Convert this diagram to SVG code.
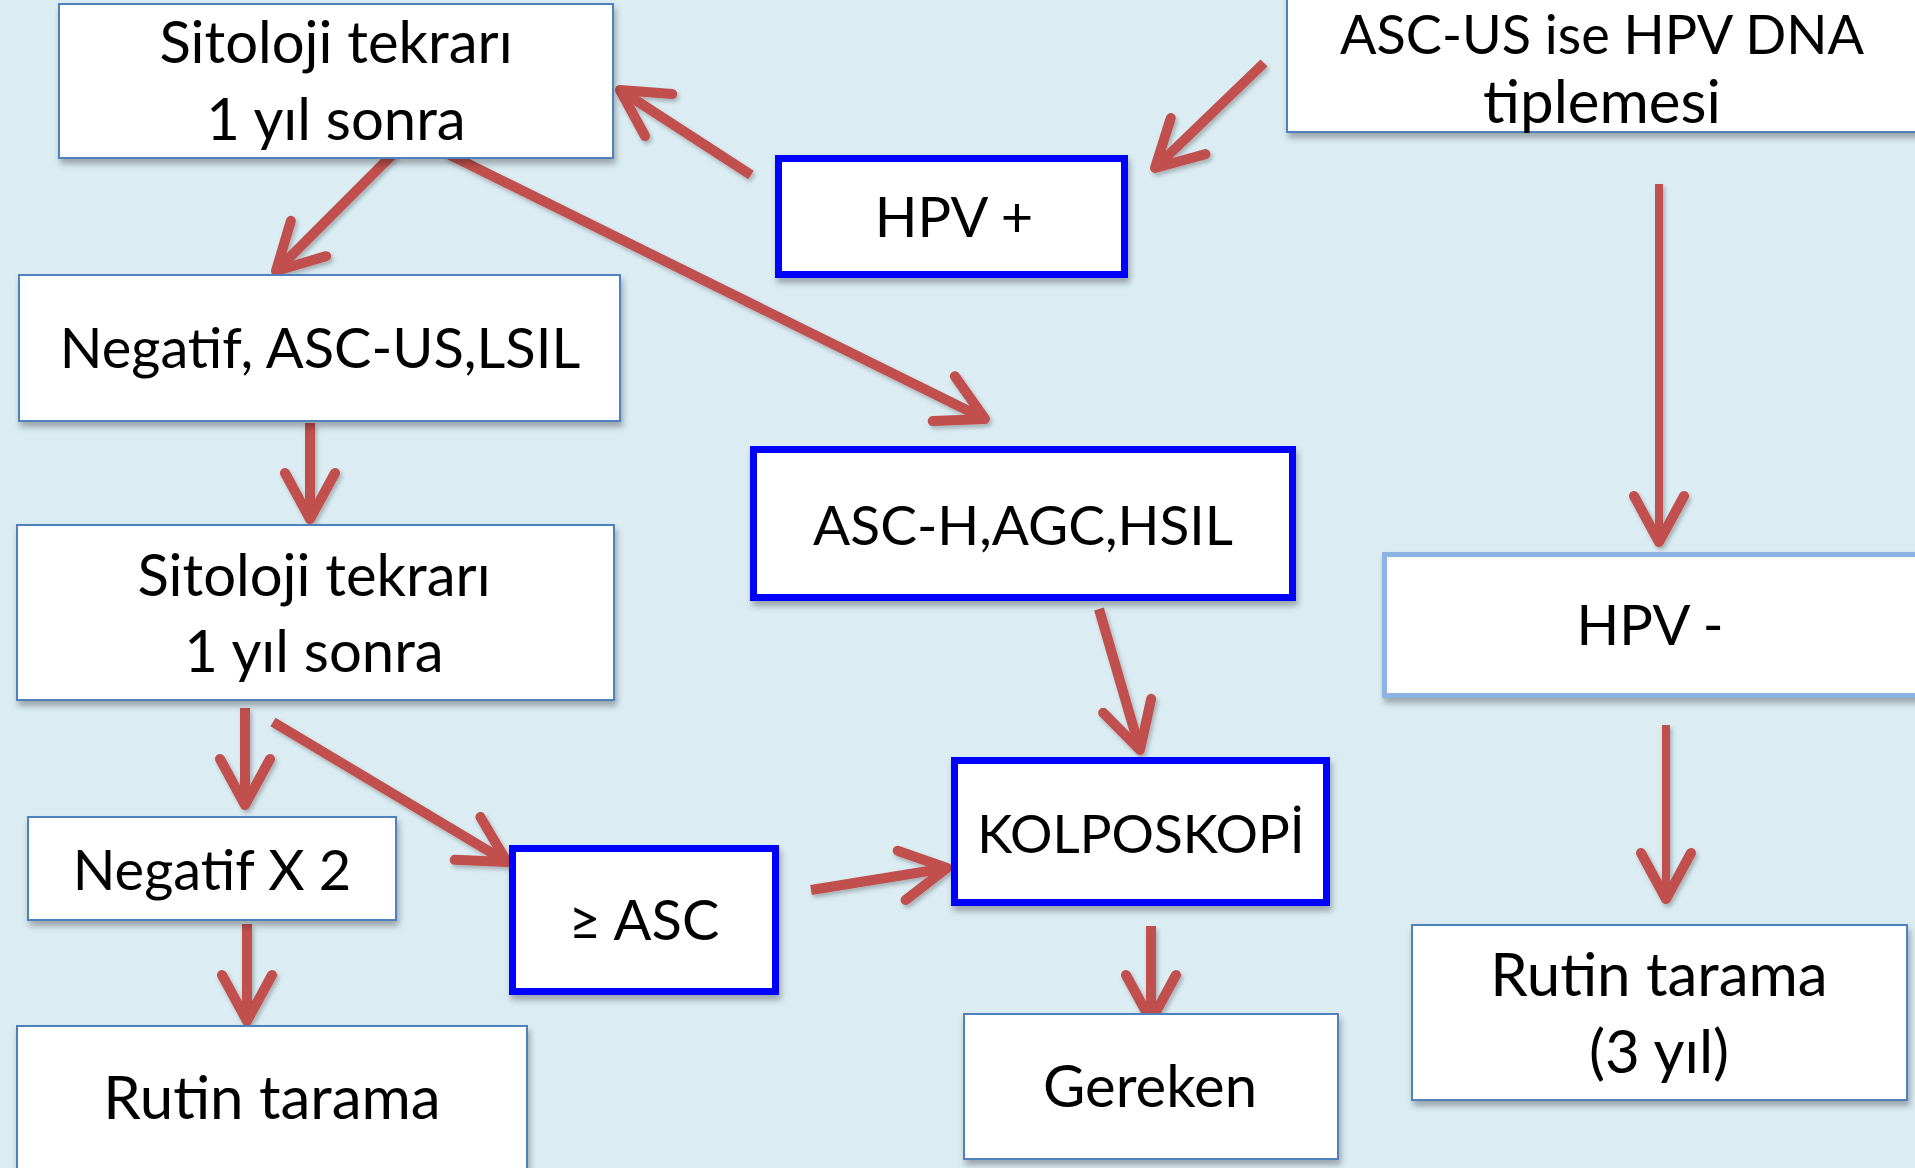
<svg xmlns="http://www.w3.org/2000/svg" width="1915" height="1168" viewBox="0 0 1915 1168">
<style>
.box{fill:#ffffff;stroke:#4F81BD;stroke-width:2;filter:url(#sh)}
.bbox{fill:#ffffff;stroke:#0000FF;stroke-width:7;filter:url(#sh)}
.lbox{fill:#ffffff;stroke:#8DB3E2;stroke-width:5;filter:url(#sh)}
text{font-family:Lato,"Liberation Sans",sans-serif;font-size:56px;fill:#000;text-anchor:middle}
.s58{font-size:58px}
.s60{font-size:60px}
.s53{font-size:53px}
.s55{font-size:55px}
.s54{font-size:54px}
.arr{fill:none;stroke:#C0504D;stroke-width:10;marker-end:url(#ah)}
.thin{stroke-width:8}
</style>
<defs>
<filter id="sh" x="-10%" y="-10%" width="120%" height="130%">
<feDropShadow dx="2" dy="5" stdDeviation="3" flood-color="#000" flood-opacity="0.3"/>
</filter>
<filter id="sh2" filterUnits="userSpaceOnUse" x="0" y="0" width="1915" height="1168">
<feDropShadow dx="2" dy="3" stdDeviation="2" flood-color="#000" flood-opacity="0.25"/>
</filter>
<marker id="ah" markerUnits="userSpaceOnUse" viewBox="-60 -40 70 80" markerWidth="70" markerHeight="80" refX="0" refY="0" orient="auto" overflow="visible">
<path d="M-46,-25 L0,0 L-46,25" fill="none" stroke="#C0504D" stroke-width="10" stroke-linecap="round" stroke-linejoin="round"/>
</marker>
</defs>
<rect x="0" y="0" width="1915" height="1168" fill="#DBECF3"/>

<g id="connectors" filter="url(#sh2)">
<path class="arr" d="M1264,63 L1155,168"/>
<path class="arr" d="M751,175 L620,90"/>
<path class="arr" d="M394,153 L276,271"/>
<path class="arr" d="M446,153 L985,419"/>
<path class="arr" d="M310,423 L310,519"/>
<path class="arr" d="M245,708 L245,805"/>
<path class="arr" d="M273,722 L507,862"/>
<path class="arr" d="M247,924 L247,1021"/>
<path class="arr" d="M811,890 L947,868"/>
<path class="arr" d="M1099,609 L1140,750"/>
<path class="arr" d="M1151,926 L1151,1021"/>
<path class="arr thin" d="M1659,184 L1659,542"/>
<path class="arr thin" d="M1666,725 L1666,899"/>
</g>

<g id="n_sit1">
<rect class="box" x="59" y="4" width="554" height="154"/>
<text class="s58" x="336" y="63">Sitoloji tekrarı</text>
<text class="s58" x="336" y="140">1 yıl sonra</text>
</g>
<g id="n_neg">
<rect class="box" x="19" y="275" width="601" height="146"/>
<text x="320" y="368">Negatif, ASC-US,LSIL</text>
</g>
<g id="n_hpvplus">
<rect class="bbox" x="778.5" y="158.5" width="346" height="116"/>
<text x="954" y="237">HPV +</text>
</g>
<g id="n_ascus">
<rect class="box" x="1287" y="-10" width="640" height="142"/>
<text class="s54" x="1602" y="54">ASC-US ise HPV DNA</text>
<text class="s60" x="1602" y="123">tiplemesi</text>
</g>
<g id="n_asch">
<rect class="bbox" x="753.5" y="449.5" width="539" height="148"/>
<text class="s55" x="1023" y="545">ASC-H,AGC,HSIL</text>
</g>
<g id="n_hpvminus">
<rect class="lbox" x="1384.5" y="554.5" width="540" height="141"/>
<text x="1650" y="645">HPV -</text>
</g>
<g id="n_rutin3">
<rect class="box" x="1412" y="925" width="495" height="175"/>
<text class="s60" x="1659" y="996">Rutin tarama</text>
<text class="s60" x="1659" y="1073">(3 yıl)</text>
</g>
<g id="n_sit2">
<rect class="box" x="17" y="525" width="597" height="175"/>
<text class="s58" x="314" y="596">Sitoloji tekrarı</text>
<text class="s58" x="314" y="672">1 yıl sonra</text>
</g>
<g id="n_neg2">
<rect class="box" x="28" y="817" width="368" height="103"/>
<text x="212" y="890">Negatif X 2</text>
</g>
<g id="n_geasc">
<rect class="bbox" x="512.5" y="848.5" width="263" height="143"/>
<text x="644" y="940">≥ ASC</text>
</g>
<g id="n_rutin">
<rect class="box" x="17" y="1026" width="510" height="170"/>
<text class="s60" x="272" y="1119">Rutin tarama</text>
</g>
<g id="n_kolp">
<rect class="bbox" x="954.5" y="760.5" width="372" height="142"/>
<text class="s53" x="1141" y="853">KOLPOSKOPİ</text>
</g>
<g id="n_gereken">
<rect class="box" x="964" y="1014" width="374" height="145"/>
<text class="s58" x="1150" y="1107">Gereken</text>
</g>
</svg>
